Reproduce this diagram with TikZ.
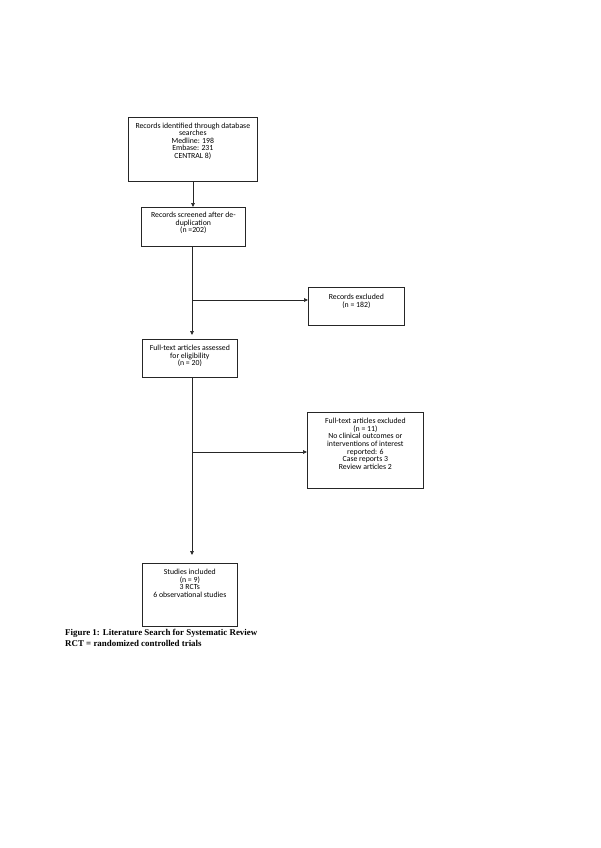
\documentclass[tikz,border=0pt]{standalone}
\usepackage{fontspec}
\setmainfont{Carlito}
\newfontfamily\capfont{Liberation Serif}
\usetikzlibrary{arrows.meta,calc}
\begin{document}
\begin{tikzpicture}[x=1pt,y=1pt,
  box/.style={draw=black!85,line width=0.7pt,inner sep=0pt,anchor=north west},
  txt/.style={anchor=north,align=center,inner sep=0pt,font=\fontsize{7.8}{7.6}\selectfont},
  arr/.style={draw=black!85,line width=0.7pt,-{Triangle[length=4pt,width=3.6pt]}},
  ln/.style={draw=black!85,line width=0.7pt}]
\useasboundingbox (0,0) rectangle (600,-848);
% boxes
\node[box,minimum width=129,minimum height=64] (b1) at (128,-117) {};
\node[box,minimum width=104,minimum height=39] (b2) at (141,-207) {};
\node[box,minimum width=96,minimum height=38] (b3) at (308,-287) {};
\node[box,minimum width=95,minimum height=38] (b4) at (142,-339) {};
\node[box,minimum width=116,minimum height=76] (b5) at (307,-412) {};
\node[box,minimum width=95,minimum height=63] (b6) at (142,-563) {};
% texts
\node[txt] (t1) at ($(b1.north)+(0,-5.5)$) {Records identified through database\\searches\\Medline: 198\\Embase: 231\\CENTRAL 8)};
\node[txt] (t2) at ($(b2.north)+(0,-5)$) {Records screened after de-\\duplication\\(n =202)};
\node[txt] (t3) at ($(b3.north)+(0,-7)$) {Records excluded\\(n = 182)};
\node[txt] (t4) at ($(b4.north)+(0,-6)$) {Full-text articles assessed\\for eligibility\\(n = 20)};
\node[txt] (t5) at ($(b5.north)+(0,-6)$) {Full-text articles excluded\\(n = 11)\\No clinical outcomes or\\interventions of interest\\reported: 6\\Case reports 3\\Review articles 2};
\node[txt] (t6) at ($(b6.north)+(0,-6)$) {Studies included\\(n = 9)\\3 RCTs\\6 observational studies};
% connectors
\coordinate (j1) at (192,-300);
\coordinate (j2) at (192,-452);
\draw[arr] (b1.south -| 193,0) -- (b2.north -| 193,0);
\draw[arr,shorten >=4pt] (b2.south -| 192,0) -- (b4.north -| 192,0);
\draw[arr] (j1) -- (b3.west |- j1);
\draw[arr,shorten >=8pt] (b4.south -| 192,0) -- (b6.north -| 192,0);
\draw[arr] (j2) -- (b5.west |- j2);
% caption
\node[anchor=north west,align=left,inner sep=0pt,font=\capfont\bfseries\fontsize{8.9}{10.8}\selectfont] (cap) at (65,-629) {Figure 1: Literature Search for Systematic Review\\RCT = randomized controlled trials};
\end{tikzpicture}
\end{document}
